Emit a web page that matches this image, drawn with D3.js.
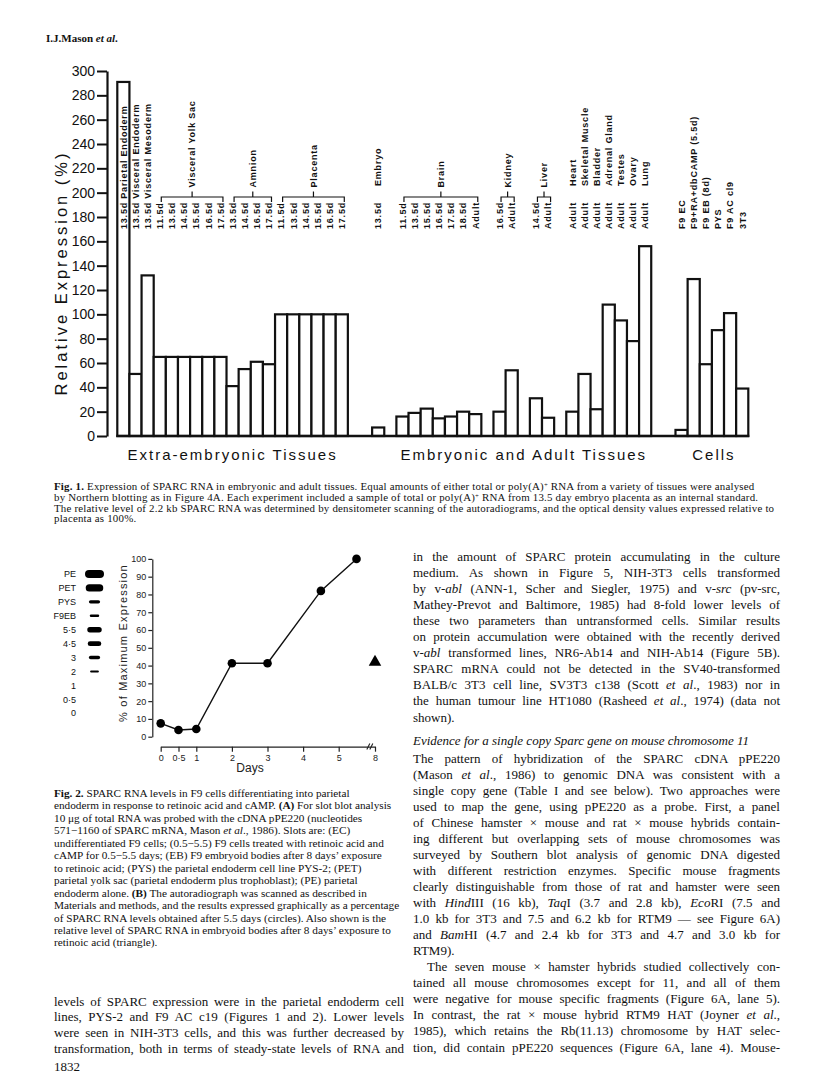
<!DOCTYPE html>
<html><head><meta charset="utf-8">
<script src="https://cdn.jsdelivr.net/npm/d3@7"></script>
<style>body{margin:0;background:#fff}svg{display:block}</style>
</head><body><script>
// ================= DATA =================
// Fig. 1
const extraSamples = ["13.5d Parietal Endoderm","13.5d Visceral Endoderm","13.5d Visceral Mesoderm",
  "11.5d","13.5d","14.5d","15.5d","16.5d","17.5d",
  "13.5d","14.5d","16.5d","17.5d",
  "11.5d","13.5d","14.5d","15.5d","16.5d","17.5d"];
const extraValues = [291,51,132, 65,65,65,65,65,65, 41,55,61,59, 100,100,100,100,100,100];
const extraGroups = [["Visceral Yolk Sac",3,8],["Amnion",9,12],["Placenta",13,18]];
const embryoSamples = ["13.5d"];
const embryoLabel = ["Embryo"];
const embryoValues = [7];
const brainSamples = ["11.5d","13.5d","15.5d","16.5d","17.5d","18.5d","Adult"];
const brainValues = [16,19,22.5,14.5,16,20,18];
const kidneySamples = ["16.5d","Adult"];
const kidneyValues = [20,54];
const liverSamples = ["14.5d","Adult"];
const liverValues = [31,15];
const adultTissues = ["Heart","Skeletal Muscle","Bladder","Adrenal Gland","Testes","Ovary","Lung"];
const adultValues = [20,51,22,108,95,78,156];
const cellLines = ["F9 EC","F9+RA+dbCAMP (5.5d)","F9 EB (8d)","PYS","F9 AC cl9","3T3"];
const cellValues = [5,129,59,87,101,39];
const sectionNames = ["Extra-embryonic Tissues","Embryonic and Adult Tissues","Cells"];
const fig1Ticks = [0,20,40,60,80,100,120,140,160,180,200,220,240,260,280,300];
const fig1YTitle = "Relative Expression (%)";

// Fig. 2
const slotLabels = ["PE","PET","PYS","F9EB","5·5","4·5","3","2","1","0·5","0"];
const slotSignal = [1.0,0.88,0.35,0.2,0.62,0.55,0.35,0.15,0,0,0];
const timeDays = [0,0.5,1,2,3,4.5,5.5];
const timeExpr = [7.5,3.8,4.3,41.3,41.3,82,100];
const ebDays = [8];
const ebExpr = [42];
const fig2YTicks = [0,10,20,30,40,50,60,70,80,90,100];
const fig2XTicks = [0,0.5,1,2,3,4,5,8];
const fig2XTickLabels = ["0","0·5","1","2","3","4","5","8"];

// Page text
const headerText = "I.J.Mason *et al*.";
const fig1Caption = [
 "**Fig. 1.** Expression of SPARC RNA in embryonic and adult tissues. Equal amounts of either total or poly(A)^+^ RNA from a variety of tissues were analysed",
 "by Northern blotting as in Figure 4A. Each experiment included a sample of total or poly(A)^+^ RNA from 13.5 day embryo placenta as an internal standard.",
 "The relative level of 2.2 kb SPARC RNA was determined by densitometer scanning of the autoradiograms, and the optical density values expressed relative to",
 "placenta as 100%."];
const fig2Caption = [
 "**Fig. 2.** SPARC RNA levels in F9 cells differentiating into parietal",
 "endoderm in response to retinoic acid and cAMP. **(A)** For slot blot analysis",
 "10 μg of total RNA was probed with the cDNA pPE220 (nucleotides",
 "571−1160 of SPARC mRNA, Mason *et al*., 1986). Slots are: (EC)",
 "undifferentiated F9 cells; (0.5−5.5) F9 cells treated with retinoic acid and",
 "cAMP for 0.5−5.5 days; (EB) F9 embryoid bodies after 8 days’ exposure",
 "to retinoic acid; (PYS) the parietal endoderm cell line PYS-2; (PET)",
 "parietal yolk sac (parietal endoderm plus trophoblast); (PE) parietal",
 "endoderm alone. **(B)** The autoradiograph was scanned as described in",
 "Materials and methods, and the results expressed graphically as a percentage",
 "of SPARC RNA levels obtained after 5.5 days (circles). Also shown is the",
 "relative level of SPARC RNA in embryoid bodies after 8 days’ exposure to",
 "retinoic acid (triangle)."];
const leftBody = [
 "levels of SPARC expression were in the parietal endoderm cell",
 "lines, PYS-2 and F9 AC c19 (Figures 1 and 2). Lower levels",
 "were seen in NIH-3T3 cells, and this was further decreased by",
 "transformation, both in terms of steady-state levels of RNA and"];
const pageNumber = "1832";
const rightPara1 = [
 "in the amount of SPARC protein accumulating in the culture",
 "medium. As shown in Figure 5, NIH-3T3 cells transformed",
 "by v-*abl* (ANN-1, Scher and Siegler, 1975) and v-*src* (pv-src,",
 "Mathey-Prevot and Baltimore, 1985) had 8-fold lower levels of",
 "these two parameters than untransformed cells. Similar results",
 "on protein accumulation were obtained with the recently derived",
 "v-*abl* transformed lines, NR6-Ab14 and NIH-Ab14 (Figure 5B).",
 "SPARC mRNA could not be detected in the SV40-transformed",
 "BALB/c 3T3 cell line, SV3T3 c138 (Scott *et al*., 1983) nor in",
 "the human tumour line HT1080 (Rasheed *et al*., 1974) (data not",
 "shown)."];
const rightHeading = "Evidence for a single copy Sparc gene on mouse chromosome 11";
const rightPara2 = [
 "The pattern of hybridization of the SPARC cDNA pPE220",
 "(Mason *et al*., 1986) to genomic DNA was consistent with a",
 "single copy gene (Table I and see below). Two approaches were",
 "used to map the gene, using pPE220 as a probe. First, a panel",
 "of Chinese hamster × mouse and rat × mouse hybrids contain-",
 "ing different but overlapping sets of mouse chromosomes was",
 "surveyed by Southern blot analysis of genomic DNA digested",
 "with different restriction enzymes. Specific mouse fragments",
 "clearly distinguishable from those of rat and hamster were seen",
 "with *Hind*III (16 kb), *Taq*I (3.7 and 2.8 kb), *Eco*RI (7.5 and",
 "1.0 kb for 3T3 and 7.5 and 6.2 kb for RTM9 — see Figure 6A)",
 "and *Bam*HI (4.7 and 2.4 kb for 3T3 and 4.7 and 3.0 kb for",
 "RTM9)."];
const rightPara3 = [
 "The seven mouse × hamster hybrids studied collectively con-",
 "tained all mouse chromosomes except for 11, and all of them",
 "were negative for mouse specific fragments (Figure 6A, lane 5).",
 "In contrast, the rat × mouse hybrid RTM9 HAT (Joyner *et al*.,",
 "1985), which retains the Rb(11.13) chromosome by HAT selec-",
 "tion, did contain pPE220 sequences (Figure 6A, lane 4). Mouse-"];

// ================= SETUP =================
const W = 816, H = 1089;
const SANS = "'Liberation Sans', Arial, Helvetica, sans-serif";
const SERIF = "'Liberation Serif', 'Times New Roman', Times, serif";
const INK = "#111";
const svg = d3.select("body").append("svg").attr("width", W).attr("height", H);
svg.append("rect").attr("width", W).attr("height", H).attr("fill", "#fff");

function rich(parent, str, x, y, o) {
  const t = parent.append("text").attr("x", x).attr("y", y)
    .attr("font-family", o.family || SERIF).attr("font-size", o.size).attr("fill", INK)
    .style("white-space", "pre");
  if (o.italic) t.attr("font-style", "italic");
  if (o.bold) t.attr("font-weight", "bold");
  if (o.ls) t.attr("letter-spacing", o.ls);
  const parts = str.split(/(\*\*[^*]+\*\*|\*[^*]+\*|\^[^^]+\^)/).filter(s => s.length);
  let plain = "";
  parts.forEach(p => {
    if (p.startsWith("**")) { t.append("tspan").attr("font-weight", "bold").text(p.slice(2, -2)); plain += p.slice(2, -2); }
    else if (p.startsWith("*")) { t.append("tspan").attr("font-style", "italic").text(p.slice(1, -1)); plain += p.slice(1, -1); }
    else if (p.startsWith("^")) { t.append("tspan").attr("baseline-shift", "super").attr("font-size", o.size * 0.62).text(p.slice(1, -1)); plain += p.slice(1, -1); }
    else { t.append("tspan").text(p); plain += p; }
  });
  if (o.justify) {
    const n = (plain.match(/ /g) || []).length;
    const natural = t.node().getComputedTextLength();
    if (n > 0) t.style("word-spacing", ((o.justify - natural) / n) + "px");
  }
  return t;
}

// ================= HEADER =================
rich(svg, headerText, 46, 42, {size: 11, bold: true});

// ================= FIG. 1 =================
const f1 = svg.append("g");
const bars = [], domainKeys = [];
let gapN = 0;
function pushGap(n) { for (let i = 0; i < n; i++) domainKeys.push("gap" + (gapN++)); }
function pushBlock(id, samples, values, tops, section) {
  return samples.map((s, i) => {
    const k = id + "-" + i;
    domainKeys.push(k);
    bars.push({key: k, sample: s, value: values[i], top: tops ? tops[i] : null, section});
    return k;
  });
}
const extraKeys = pushBlock("extra", extraSamples, extraValues, null, 0);
pushGap(2);
const embryoKeys = pushBlock("embryo", embryoSamples, embryoValues, embryoLabel, 1);
pushGap(1);
const brainKeys = pushBlock("brain", brainSamples, brainValues, null, 1);
pushGap(1);
const kidneyKeys = pushBlock("kidney", kidneySamples, kidneyValues, null, 1);
pushGap(1);
const liverKeys = pushBlock("liver", liverSamples, liverValues, null, 1);
pushGap(1);
const adultKeys = pushBlock("adult", adultTissues.map(() => "Adult"), adultValues, adultTissues, 1);
pushGap(2);
const cellKeys = pushBlock("cells", cellLines, cellValues, null, 2);

const x1 = d3.scaleBand().domain(domainKeys).range([117.3, 748.3]).paddingInner(0).paddingOuter(0);
const bw = x1.bandwidth();
const y1 = d3.scaleLinear().domain([0, 300]).range([436, 71]);

// y axis
const ax1 = f1.append("g").attr("transform", "translate(107,0)")
  .call(d3.axisLeft(y1).tickValues(fig1Ticks).tickSize(10).tickSizeOuter(0).tickPadding(2));
ax1.select(".domain").attr("stroke", INK).attr("stroke-width", 2.2);
ax1.selectAll(".tick line").attr("stroke", INK).attr("stroke-width", 2);
ax1.selectAll(".tick text").attr("font-family", SANS).attr("font-size", 14).attr("fill", INK);

f1.append("text").attr("transform", "translate(67,273) rotate(-90)")
  .attr("text-anchor", "middle").attr("font-family", SANS).attr("font-size", 16.5)
  .attr("letter-spacing", 3).attr("fill", INK).text(fig1YTitle);

// bars
f1.selectAll("rect.bar").data(bars).join("rect").attr("class", "bar")
  .attr("x", d => x1(d.key)).attr("width", bw)
  .attr("y", d => y1(d.value)).attr("height", d => y1(0) - y1(d.value))
  .attr("fill", "#fff").attr("stroke", INK).attr("stroke-width", 2.2);

// baseline
f1.append("line").attr("x1", x1(extraKeys[0]) - 1).attr("x2", x1(cellKeys[cellKeys.length - 1]) + bw + 1)
  .attr("y1", y1(0)).attr("y2", y1(0)).attr("stroke", INK).attr("stroke-width", 2.6);

// sample labels
const labStyle = s => s.attr("font-family", SANS).attr("font-size", 9).attr("font-weight", "bold")
  .attr("letter-spacing", 0.8).attr("fill", INK).attr("text-anchor", "start");
f1.selectAll("text.sample").data(bars).join("text").attr("class", "sample")
  .attr("transform", d => `translate(${x1(d.key) + bw / 2 + 3.3},229) rotate(-90)`)
  .call(labStyle).text(d => d.sample);
f1.selectAll("text.top").data(bars.filter(d => d.top)).join("text").attr("class", "top")
  .attr("transform", d => `translate(${x1(d.key) + bw / 2 + 3.3},186) rotate(-90)`)
  .call(labStyle).text(d => d.top);

// brackets
const brackets = extraGroups.map(g => ({name: g[0], keys: extraKeys.slice(g[1], g[2] + 1)}))
  .concat([{name: "Brain", keys: brainKeys}, {name: "Kidney", keys: kidneyKeys}, {name: "Liver", keys: liverKeys}]);
brackets.forEach(b => {
  const a = x1(b.keys[0]) + bw / 2 + 1.5, c = x1(b.keys[b.keys.length - 1]) + bw / 2 + 2.5, m = (a + c) / 2;
  f1.append("path").attr("d", `M${a},202V197H${c}V202M${m},197V191.5`)
    .attr("fill", "none").attr("stroke", INK).attr("stroke-width", 1.2);
  f1.append("text").attr("transform", `translate(${m + 3.3},187.5) rotate(-90)`).call(labStyle).text(b.name);
});

// section labels
const secCenters = [
  (x1(extraKeys[0]) + x1(extraKeys[extraKeys.length - 1]) + bw) / 2,
  (x1(brainKeys[0]) + x1(adultKeys[adultKeys.length - 1]) + bw) / 2,
  (x1(cellKeys[0]) + x1(cellKeys[cellKeys.length - 1]) + bw) / 2 + 2];
f1.selectAll("text.section").data(sectionNames).join("text").attr("class", "section")
  .attr("x", (d, i) => secCenters[i]).attr("y", 460).attr("text-anchor", "middle")
  .attr("font-family", SANS).attr("font-size", 15).attr("letter-spacing", 2).attr("fill", INK).text(d => d);

// ================= FIG. 1 CAPTION =================
fig1Caption.forEach((l, i) => rich(svg, l, 54, 490 + i * 10.75, {size: 10.9, ls: 0.2}));

// ================= FIG. 2 =================
const f2 = svg.append("g");
const slotY = d3.scalePoint().domain(slotLabels).range([574, 713.3]);
const blotW = d3.scaleLinear().domain([0, 1]).range([7, 19]);
const blotH = d3.scaleLinear().domain([0, 1]).range([1, 8]);
f2.selectAll("text.slot").data(slotLabels).join("text").attr("class", "slot")
  .attr("x", 76).attr("y", d => slotY(d)).attr("dy", "0.35em").attr("text-anchor", "end")
  .attr("font-family", SANS).attr("font-size", 9).attr("fill", INK).text(d => d);
const blots = slotLabels.map((l, i) => ({l, s: slotSignal[i]})).filter(d => d.s > 0);
f2.selectAll("rect.blot").data(blots).join("rect").attr("class", "blot")
  .attr("x", d => 94.5 - blotW(d.s) / 2).attr("width", d => blotW(d.s))
  .attr("y", d => slotY(d.l) - blotH(d.s) / 2).attr("height", d => blotH(d.s))
  .attr("rx", d => blotH(d.s) / 2).attr("fill", "#000");

const y2 = d3.scaleLinear().domain([0, 100]).range([736.7, 558.9]);
const x2 = d3.scaleLinear().domain([0, 5.5, 8]).range([160.7, 356.5, 375]);
const ax2y = f2.append("g").attr("transform", "translate(152.3,0)")
  .call(d3.axisLeft(y2).tickValues(fig2YTicks).tickSize(4).tickSizeOuter(0).tickPadding(2));
ax2y.select(".domain").attr("stroke", "#222").attr("stroke-width", 1.2);
ax2y.selectAll(".tick line").attr("stroke", "#222").attr("stroke-width", 1.2);
ax2y.selectAll(".tick text").attr("font-family", SANS).attr("font-size", 9).attr("fill", "#222");

const ax2x = f2.append("g").attr("transform", "translate(0,746.7)")
  .call(d3.axisBottom(x2).tickValues(fig2XTicks).tickFormat((d, i) => fig2XTickLabels[i]).tickSize(5).tickSizeOuter(0).tickPadding(3));
ax2x.select(".domain").attr("stroke", "#222").attr("stroke-width", 1.2);
ax2x.selectAll(".tick line").attr("stroke", "#222").attr("stroke-width", 1.2);
ax2x.selectAll(".tick text").attr("font-family", SANS).attr("font-size", 9).attr("fill", "#222");
// axis break marks
const bx = x2(7.3);
f2.append("path").attr("d", `M${bx - 3},${749.5}L${bx},${743.5}M${bx},${749.5}L${bx + 3},${743.5}`)
  .attr("stroke", "#222").attr("stroke-width", 1.1).attr("fill", "none");

f2.append("text").attr("transform", "translate(126.5,643) rotate(-90)").attr("text-anchor", "middle")
  .attr("font-family", SANS).attr("font-size", 11).attr("letter-spacing", 1.2).attr("fill", "#222")
  .text("% of Maximum Expression");
f2.append("text").attr("x", 250).attr("y", 772).attr("text-anchor", "middle")
  .attr("font-family", SANS).attr("font-size", 12).attr("fill", "#222").text("Days");

const pts = timeDays.map((d, i) => ({d, v: timeExpr[i]}));
f2.append("path").datum(pts).attr("d", d3.line().x(p => x2(p.d)).y(p => y2(p.v)))
  .attr("fill", "none").attr("stroke", "#111").attr("stroke-width", 1.4);
f2.selectAll("circle.pt").data(pts).join("circle").attr("class", "pt")
  .attr("cx", p => x2(p.d)).attr("cy", p => y2(p.v)).attr("r", 4.3).attr("fill", "#000");
f2.selectAll("path.tri").data(ebDays.map((d, i) => ({d, v: ebExpr[i]}))).join("path").attr("class", "tri")
  .attr("transform", p => `translate(${x2(p.d)},${y2(p.v)})`)
  .attr("d", d3.symbol().type(d3.symbolTriangle).size(68)).attr("fill", "#000");

// ================= FIG. 2 CAPTION + LEFT COLUMN =================
fig2Caption.forEach((l, i) => rich(svg, l, 54, 797 + i * 12.45, {size: 11.25}));
leftBody.forEach((l, i) => rich(svg, l, 54, 1005.8 + i * 15.6, {size: 13, justify: 350}));
rich(svg, pageNumber, 54, 1071, {size: 13});

// ================= RIGHT COLUMN =================
const RX = 413, RW = 367, P = 16.05;
let yy = 561;
rightPara1.forEach((l, i) => { rich(svg, l, RX, yy, {size: 13, justify: i < rightPara1.length - 1 ? RW : 0}); yy += P; });
yy += 7;
rich(svg, rightHeading, RX, yy, {size: 13, italic: true});
yy += P + 2;
rightPara2.forEach((l, i) => { rich(svg, l, RX, yy, {size: 13, justify: i < rightPara2.length - 1 ? RW : 0}); yy += P; });
rightPara3.forEach((l, i) => { rich(svg, l, RX + (i === 0 ? 14 : 0), yy, {size: 13, justify: i === 0 ? RW - 14 : RW}); yy += P; });
</script></body></html>
